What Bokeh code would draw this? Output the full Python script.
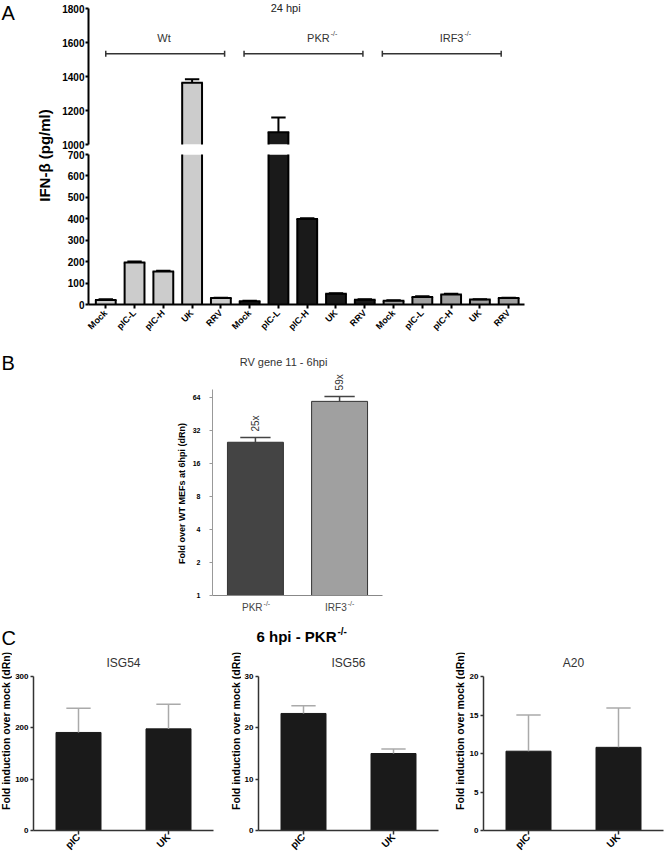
import numpy as np
from math import pi
from bokeh.plotting import figure
from bokeh.models import Range1d, FixedTicker
from bokeh.layouts import column, row
from bokeh.embed import file_html
from bokeh.resources import INLINE
from bokeh.core.properties import value

FONT = "Liberation Sans"

# ---------------- data ----------------
# Panel A : IFN-beta (pg/ml), 24 hpi
a_title = "24 hpi"
a_ylabel = "IFN-\u03b2 (pg/ml)"
a_groups = ["Wt", "PKR", "IRF3"]
a_group_sup = ["", "-/-", "-/-"]
a_treatments = ["Mock", "pIC-L", "pIC-H", "UK", "RRV"]
a_wt = [21, 196, 154, 1365, 30]
a_wt_err = [4, 5, 4, 20, 2]
a_pkr = [15, 1072, 399, 50, 22]
a_pkr_err = [2, 88, 3, 2, 2]
a_irf3 = [18, 35, 47, 23, 30]
a_irf3_err = [2, 3, 3, 2, 2]
a_upper_ticks = [1000, 1200, 1400, 1600, 1800]
a_lower_ticks = [0, 100, 200, 300, 400, 500, 600, 700]

# Panel B : RV gene 11 - 6hpi
b_title = "RV gene 11 - 6hpi"
b_ylabel = "Fold over WT MEFs at 6hpi (dRn)"
b_categories = ["PKR", "IRF3"]
b_sup = ["-/-", "-/-"]
b_values = [25, 59]
b_err = [2.6, 6.5]
b_bar_labels = ["25x", "59x"]
b_ticks = [1, 2, 4, 8, 16, 32, 64]

# Panel C : 6 hpi - PKR-/-
c_title = "6 hpi - PKR"
c_title_sup = "-/-"
c_ylabel = "Fold induction over mock (dRn)"
c_treatments = ["pIC", "UK"]
c_genes = ["ISG54", "ISG56", "A20"]
c_isg54 = [191, 198]
c_isg54_err = [47, 48]
c_isg56 = [22.8, 15.0]
c_isg56_err = [1.5, 0.9]
c_a20 = [10.3, 10.8]
c_a20_err = [4.7, 5.1]
c_ticks_isg54 = [0, 100, 200, 300]
c_ticks_isg56 = [0, 10, 20, 30]
c_ticks_a20 = [0, 5, 10, 15, 20]


def base_fig(**kw):
    p = figure(output_backend="svg", toolbar_location=None, **kw)
    p.outline_line_color = None
    p.background_fill_color = "white"
    p.border_fill_color = "white"
    for g in p.grid:
        g.visible = False
    return p


def text_fig(w, h):
    return base_fig(width=w, height=h, x_range=Range1d(0, w), y_range=Range1d(0, h),
                    x_axis_location=None, y_axis_location=None, min_border=0)


def put_text(p, x, y, txt, size, bold=False, align="center", baseline="middle",
             angle=0.0, color="black", x_offset=0):
    p.text(x=[x], y=[y], text=[txt], angle=angle, text_align=align, text_baseline=baseline,
           text_font=value(FONT), text_font_size=f"{size}px",
           text_font_style="bold" if bold else "normal", text_color=color, x_offset=x_offset)


def style_axis(ax, color="black", lw=2, size=10, bold=True, tick_out=3, standoff=2):
    ax.axis_line_color = color
    ax.axis_line_width = lw
    ax.major_tick_line_color = color
    ax.major_tick_line_width = lw
    ax.major_tick_out = tick_out
    ax.major_tick_in = 0
    ax.minor_tick_line_color = None
    ax.major_label_text_font = FONT
    ax.major_label_text_font_size = f"{size}px"
    ax.major_label_text_font_style = "bold" if bold else "normal"
    ax.major_label_text_color = "black"
    ax.major_label_standoff = standoff


def error_bars(p, xs, tops, errs, cap, color, lw):
    xs = np.asarray(xs, float)
    tops = np.asarray(tops, float)
    ends = tops + np.asarray(errs, float)
    if len(xs) == 0:
        return
    p.segment(x0=xs, y0=tops, x1=xs, y1=ends, line_color=color, line_width=lw)
    p.segment(x0=xs - cap / 2, y0=ends, x1=xs + cap / 2, y1=ends, line_color=color, line_width=lw)


# ---------------- Panel A ----------------
A_COLORS = ["#cccccc", "#1a1a1a", "#a0a0a0"]
a_vals = np.array(a_wt + a_pkr + a_irf3, float)
a_errs = np.array(a_wt_err + a_pkr_err + a_irf3_err, float)
n_t = len(a_treatments)
a_x = np.arange(len(a_vals))
a_fill = np.array([A_COLORS[g] for g in range(len(a_groups)) for _ in a_treatments])
a_labels = {int(i): a_treatments[i % n_t] for i in a_x}

xr = Range1d(-0.6, 14.55)
BAR_W = 0.69
A_LAB_W, A_W = 54, 610
UP_FH, LO_FH = 144, 150
UP_END = 1850
LO_END = 700


def a_bars(p, lo, hi):
    """bars of panel A as seen through the window [lo, hi] of the broken axis"""
    vis = a_vals > lo
    xs, tops = a_x[vis], a_vals[vis]
    p.vbar(x=xs, top=tops, bottom=0, width=BAR_W, fill_color=list(a_fill[vis]), line_color=None)
    half = BAR_W / 2
    p.segment(x0=np.r_[xs - half, xs + half], y0=np.zeros(2 * len(xs)),
              x1=np.r_[xs - half, xs + half], y1=np.r_[tops, tops],
              line_color="black", line_width=2)
    inside = tops <= hi
    p.segment(x0=xs[inside] - half - 0.03, y0=tops[inside], x1=xs[inside] + half + 0.03,
              y1=tops[inside], line_color="black", line_width=2)
    error_bars(p, xs[inside], tops[inside], a_errs[vis][inside], 0.5, "black", 2)


pa_lab = text_fig(A_LAB_W, 344)
put_text(pa_lab, 44, 189, a_ylabel, 15, bold=True, angle=pi / 2)
put_text(pa_lab, 1, 343, "A", 20, align="left", baseline="top")

# upper (broken) part
pu = base_fig(width=A_W, height=UP_FH + 5, x_range=xr, y_range=Range1d(1000, UP_END),
              x_axis_location=None, min_border_left=34, min_border_right=A_W - 34 - 436,
              min_border_top=0, min_border_bottom=5)
a_bars(pu, 1000, UP_END)
ya = pu.yaxis[0]
style_axis(ya, standoff=1)
ya.ticker = FixedTicker(ticks=a_upper_ticks)
ya.bounds = (1000, 1800)

u_ppx = (UP_END - 1000) / UP_FH  # data units per pixel


def up_y(px_from_top):
    return UP_END - px_from_top * u_ppx


BR_Y = up_y(53.3)
for gi, g in enumerate(a_groups):
    first = gi * n_t
    lo = first * 0.961
    hi = lo + 4.13
    pu.segment(x0=[lo], y0=[BR_Y], x1=[hi], y1=[BR_Y], line_color="#333333", line_width=1.5)
    pu.segment(x0=[lo, hi], y0=[BR_Y - 3 * u_ppx] * 2, x1=[lo, hi], y1=[BR_Y + 3 * u_ppx] * 2,
               line_color="#333333", line_width=1.5)
    anchor = first + (n_t - 1) / 2 + [0.26, 0.78, 0.43][gi]
    put_text(pu, anchor, up_y(37), g, 11, align="right", color="#333333")
    if a_group_sup[gi]:
        put_text(pu, anchor, up_y(33), a_group_sup[gi], 7, align="left", color="#333333", x_offset=1)
put_text(pu, 6.25, up_y(7), a_title, 11, color="#222222")

# lower part
pl = base_fig(width=A_W, height=5 + LO_FH + 40, x_range=xr, y_range=Range1d(0, LO_END),
              min_border_left=34, min_border_right=A_W - 34 - 436, min_border_top=5,
              min_border_bottom=40)
a_bars(pl, -1, LO_END)
style_axis(pl.yaxis[0], standoff=1)
pl.yaxis[0].ticker = FixedTicker(ticks=a_lower_ticks)
xa = pl.xaxis[0]
style_axis(xa, size=9, tick_out=4, standoff=3)
xa.ticker = FixedTicker(ticks=[int(i) for i in a_x])
xa.major_label_overrides = a_labels
xa.major_label_orientation = pi / 4

panel_a = row(pa_lab, column(pu, pl))

# ---------------- Panel B ----------------
B_LAB_W, B_W = 188, 476
B_FH, B_FW = 245, 170
B_PXD = 33.0  # pixels per doubling
bx = list(range(len(b_categories)))
bxr = Range1d(-0.51, 1.51)
pb = base_fig(width=B_W, height=6 + B_FH + 3, x_range=bxr,
              y_range=Range1d(1, 2 ** (B_FH / B_PXD)), y_axis_type="log",
              min_border_left=24, min_border_right=B_W - 24 - B_FW, min_border_top=6,
              min_border_bottom=3)
pb.vbar(x=bx, top=b_values, bottom=1, width=0.665, fill_color=["#444444", "#a0a0a0"],
        line_color="#333333", line_width=1)
error_bars(pb, bx, b_values, b_err, 0.36, "#444444", 1.5)
b_ends = np.asarray(b_values, float) + np.asarray(b_err, float)
pb.text(x=bx, y=b_ends * 2 ** (6 / B_PXD), text=b_bar_labels, angle=pi / 2,
        text_align="left", text_baseline="middle", text_font=value(FONT),
        text_font_size="10px", text_color="#333333")
yb = pb.yaxis[0]
style_axis(yb, color="#999999", lw=1, size=7, standoff=9)
yb.ticker = FixedTicker(ticks=b_ticks)
yb.bounds = (1, 75)
yb.major_label_overrides = {t: str(t) for t in b_ticks}
xb = pb.xaxis[0]
style_axis(xb, color="#888888", lw=1.2, size=9, tick_out=0)
xb.ticker = FixedTicker(ticks=[])
put_text(pb, 0.334, 2 ** (234 / B_PXD), b_title, 11, color="#333333")

# category labels under the B axis (same x scale)
pbx = base_fig(width=B_W, height=22, x_range=bxr, y_range=Range1d(0, 22),
               x_axis_location=None, y_axis_location=None, min_border_left=24,
               min_border_right=B_W - 24 - B_FW, min_border_top=0, min_border_bottom=0)
for i, c in enumerate(b_categories):
    put_text(pbx, i + 0.085, 13, c, 10, align="right", color="#444444")
    put_text(pbx, i + 0.085, 17, b_sup[i], 7, align="left", color="#444444", x_offset=1)

pb_lab = text_fig(B_LAB_W, 276)
put_text(pb_lab, 1, 258, "B", 20, align="left")
put_text(pb_lab, 181, 127, b_ylabel, 9, bold=True, angle=pi / 2)

panel_b = row(pb_lab, column(pb, pbx))

# ---------------- Panel C ----------------
C_FH_AXIS = 154      # pixel height of the drawn axis (0..max)
C_FH = 178           # frame height (extra room above for the gene title)
C_FW = 180
C_BOT = 29
c_vals = [c_isg54, c_isg56, c_a20]
c_errs = [c_isg54_err, c_isg56_err, c_a20_err]
c_ticks = [c_ticks_isg54, c_ticks_isg56, c_ticks_a20]
c_widths = [217, 212, 199]
c_left = [21, 17, 18]
cx = list(range(len(c_treatments)))
C_H = 2 + C_FH + C_BOT

ctop = text_fig(664, 30)
put_text(ctop, 1, 13, "C", 20, align="left")
put_text(ctop, 336, 14, c_title, 15, bold=True, align="right")
put_text(ctop, 337, 19, c_title_sup, 10, bold=True, align="left")

c_row = []
for k, gene in enumerate(c_genes):
    ymax = c_ticks[k][-1]
    lab = text_fig(12, C_H)
    put_text(lab, 5 if k == 0 else 6, C_H - 92, c_ylabel, 10.5, bold=True, angle=pi / 2)
    p = base_fig(width=c_widths[k], height=C_H, x_range=Range1d(-0.5, 1.5),
                 y_range=Range1d(0, ymax * C_FH / C_FH_AXIS),
                 min_border_left=c_left[k], min_border_right=c_widths[k] - c_left[k] - C_FW,
                 min_border_top=2, min_border_bottom=C_BOT)
    p.vbar(x=cx, top=c_vals[k], bottom=0, width=0.5, fill_color="#1a1a1a", line_color="#1a1a1a")
    error_bars(p, cx, c_vals[k], c_errs[k], 0.27, "#aaaaaa", 1.5)
    yax = p.yaxis[0]
    style_axis(yax, color="#333333", lw=1.5, size=8, tick_out=3, standoff=2)
    yax.ticker = FixedTicker(ticks=c_ticks[k])
    yax.bounds = (0, ymax)
    xax = p.xaxis[0]
    style_axis(xax, color="#333333", lw=1.5, size=10, tick_out=4, standoff=1)
    xax.ticker = FixedTicker(ticks=cx)
    xax.major_label_overrides = {i: t for i, t in enumerate(c_treatments)}
    xax.major_label_orientation = pi / 4
    put_text(p, 0.5, ymax * (C_FH_AXIS + 14) / C_FH_AXIS, gene, 12, color="#333333")
    c_row += [lab, p]

panel_c = column(ctop, row(*c_row))

layout = column(panel_a, panel_b, panel_c)
open("out.html", "w").write(file_html(layout, INLINE))
